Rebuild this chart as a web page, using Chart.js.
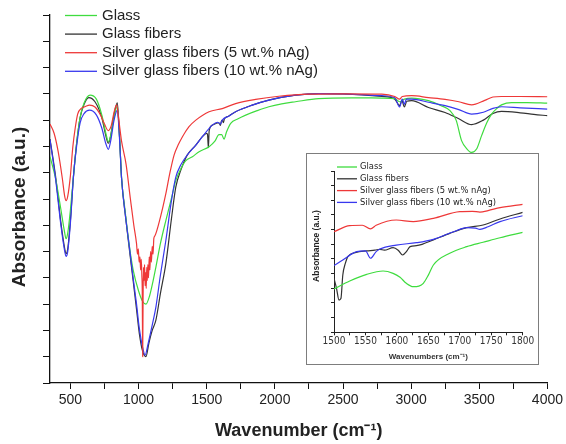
<!DOCTYPE html>
<html>
<head>
<meta charset="utf-8">
<script src="https://cdn.jsdelivr.net/npm/chart.js@4.4.1/dist/chart.umd.min.js"></script>
<style>
  body { margin: 0; background: #fff; }
  #wrap { position: relative; width: 566px; height: 444px; }
  #box { position: absolute; left: 306px; top: 153px; width: 233px; height: 212px;
         box-sizing: border-box; border: 1.5px solid #7d7d7d; background: #fff; }
  #zoom { position: absolute; left: 0; top: 0; }
</style>
</head>
<body>
<div id="wrap">
  <canvas id="main" width="566" height="444"></canvas>
  <div id="box"><canvas id="zoom" width="230" height="209"></canvas></div>
</div>
<script>
// series names
const names = ['Glass', 'Glass fibers', 'Silver glass fibers (5 wt.% nAg)', 'Silver glass fibers (10 wt.% nAg)'];
const colors = ['#3fdc3f', '#333333', '#ee3838', '#3838ee'];

// main spectrum, [wavenumber, absorbance a.u.]
const glass = [[350,8.61],[390,7.8],[430,6.6],[455,5.8],[468,5.49],[480,5.7],[500,6.6],[522,7.85],[545,9.1],[571,10.1],[600,10.65],[644,10.95],[690,10.8],[730,10.2],[760,9.5],[778,9.18],[795,9.4],[820,10.1],[842,10.51],[860,9.4],[875,7.8],[900,6.6],[930,5.3],[960,4.3],[1000,3.5],[1030,3.1],[1054,3.0],[1080,3.3],[1105,3.85],[1127,4.41],[1160,5.3],[1200,6.18],[1240,7.0],[1273,7.7],[1310,8.15],[1347,8.46],[1395,8.61],[1444,8.8],[1517,8.99],[1560,9.2],[1590,9.45],[1610,9.45],[1627,9.28],[1645,9.55],[1676,9.88],[1730,10.05],[1786,10.19],[1870,10.36],[1956,10.51],[2050,10.62],[2151,10.7],[2322,10.82],[2566,10.85],[2785,10.84],[2880,10.82],[2915,10.7],[2950,10.8],[3004,10.84],[3127,10.74],[3220,10.55],[3285,10.36],[3330,10.0],[3370,9.22],[3410,8.9],[3444,8.77],[3480,8.9],[3517,9.41],[3555,9.9],[3590,10.23],[3630,10.45],[3663,10.58],[3737,10.67],[3850,10.67],[4000,10.65]];
const fibers = [[350,9.28],[390,7.9],[430,6.1],[455,5.2],[468,4.92],[480,5.1],[500,6.2],[522,7.85],[545,9.1],[571,10.1],[600,10.6],[634,10.86],[680,10.7],[730,10.1],[760,9.4],[778,9.12],[795,9.4],[820,10.2],[844,10.66],[860,9.4],[875,7.8],[905,6.3],[932,5.1],[960,3.9],[985,2.8],[1005,1.9],[1030,1.2],[1054,1.0],[1075,1.5],[1100,2.0],[1127,2.39],[1160,3.4],[1200,4.54],[1240,6.2],[1273,7.45],[1310,8.1],[1358,8.68],[1420,9.05],[1468,9.37],[1500,9.5],[1506,9.45],[1512,8.95],[1518,9.6],[1541,9.81],[1590,9.9],[1600,9.8],[1607,9.95],[1614,10.0],[1622,9.9],[1630,10.05],[1660,10.15],[1712,10.32],[1834,10.57],[1956,10.76],[2151,10.95],[2322,11.01],[2500,11.0],[2785,10.9],[2880,10.8],[2915,10.55],[2932,10.75],[2950,10.5],[2968,10.72],[3004,10.74],[3127,10.48],[3249,10.29],[3350,10.05],[3444,9.83],[3530,10.0],[3600,10.25],[3663,10.33],[3800,10.28],[3900,10.22],[4000,10.17]];
const silver5 = [[350,9.85],[380,9.5],[410,8.8],[440,7.8],[458,7.1],[468,6.94],[480,7.1],[500,7.9],[517,8.96],[535,9.7],[553,10.23],[580,10.45],[610,10.52],[640,10.57],[680,10.5],[720,10.2],[750,9.85],[778,9.6],[800,9.8],[820,10.3],[839,10.58],[855,10.0],[875,9.2],[908,8.33],[940,7.0],[965,6.0],[985,5.3],[992,4.9],[998,5.1],[1004,4.6],[1010,4.8],[1015,4.3],[1020,4.7],[1024,4.1],[1027,3.5],[1030,1.0],[1033,3.2],[1036,4.4],[1040,3.9],[1044,4.5],[1048,3.7],[1052,4.2],[1056,3.6],[1060,4.4],[1064,3.9],[1068,4.5],[1073,4.0],[1078,4.8],[1083,4.3],[1088,5.0],[1094,4.6],[1100,5.2],[1106,4.9],[1112,5.5],[1120,5.6],[1160,6.3],[1200,7.2],[1230,8.0],[1261,8.68],[1290,9.05],[1322,9.37],[1370,9.75],[1420,10.0],[1517,10.32],[1614,10.44],[1712,10.63],[1859,10.79],[2029,10.91],[2249,10.99],[2500,11.0],[2785,10.99],[2880,10.9],[2915,10.8],[2935,10.9],[3004,10.93],[3127,10.86],[3249,10.79],[3350,10.7],[3444,10.58],[3540,10.75],[3600,10.88],[3663,10.9],[3800,10.9],[4000,10.89]];
const silver10 = [[350,9.26],[390,7.8],[430,6.0],[455,5.1],[468,4.82],[480,5.0],[500,6.1],[522,7.85],[545,9.0],[571,9.9],[600,10.25],[640,10.38],[690,10.2],[730,9.7],[760,9.1],[778,8.89],[795,9.2],[820,10.0],[844,10.38],[860,9.3],[875,7.8],[905,6.3],[932,5.2],[960,4.0],[985,3.0],[1005,2.1],[1030,1.35],[1048,1.06],[1070,1.5],[1100,2.2],[1127,2.89],[1160,4.1],[1200,5.42],[1240,6.9],[1273,7.83],[1310,8.3],[1358,8.68],[1420,9.05],[1468,9.37],[1541,9.81],[1580,9.92],[1600,9.85],[1614,10.0],[1660,10.15],[1712,10.32],[1834,10.57],[1956,10.76],[2151,10.95],[2322,11.01],[2500,11.0],[2785,10.93],[2880,10.85],[2915,10.5],[2935,10.8],[2950,10.6],[2965,10.8],[3004,10.8],[3127,10.68],[3249,10.55],[3350,10.4],[3444,10.23],[3530,10.3],[3600,10.45],[3663,10.51],[3800,10.47],[4000,10.42]];

// inset, 1500-1800 cm-1
const glassZoom = [[1500,2.95],[1525,3.5],[1552,3.95],[1578,4.18],[1594,4.02],[1605,3.75],[1615,3.34],[1626,3.11],[1635,3.15],[1642,3.34],[1650,3.9],[1658,4.59],[1684,5.39],[1711,5.84],[1737,6.14],[1764,6.45],[1800,6.82]];
const fibersZoom = [[1500,3.68],[1504,3.0],[1508,2.2],[1511,2.3],[1514,3.91],[1518,4.7],[1522,5.16],[1535,5.45],[1552,5.55],[1565,5.6],[1573,5.66],[1580,5.6],[1594,5.77],[1602,5.6],[1609,5.27],[1615,5.5],[1621,5.84],[1631,5.91],[1640,6.0],[1658,6.3],[1684,6.75],[1711,7.14],[1737,7.32],[1764,7.73],[1800,8.18]];
const silver5Zoom = [[1500,6.86],[1525,7.27],[1545,7.3],[1558,7.05],[1567,7.3],[1599,7.66],[1626,7.55],[1658,7.77],[1700,8.23],[1720,8.25],[1732,8.2],[1745,8.3],[1764,8.5],[1800,8.73]];
const silver10Zoom = [[1500,4.55],[1514,4.93],[1536,5.5],[1550,5.55],[1558,5.05],[1567,5.5],[1573,5.68],[1599,5.95],[1631,6.11],[1658,6.34],[1690,6.86],[1711,7.14],[1725,7.1],[1732,7.02],[1745,7.2],[1764,7.55],[1800,7.95]];

const mainTicks = [500, 750, 1000, 1250, 1500, 1750, 2000, 2250, 2500, 2750, 3000, 3250, 3500, 3750, 4000];
const zoomTicks = [1500, 1525, 1550, 1575, 1600, 1625, 1650, 1675, 1700, 1725, 1750, 1775, 1800];

const SANS = "'Liberation Sans', Arial, sans-serif";
const NARROW = "'Liberation Sans Narrow', 'Arial Narrow', 'DejaVu Sans Condensed', sans-serif";

// draws a short line + label for each dataset, Origin style
const lineLegend = {
  id: 'lineLegend',
  afterDatasetsDraw(chart, args, o) {
    const ctx = chart.ctx;
    ctx.save();
    ctx.font = o.font;
    ctx.textBaseline = 'middle';
    chart.data.datasets.forEach((ds, i) => {
      const y = o.y + i * o.step;
      ctx.strokeStyle = ds.borderColor;
      ctx.lineWidth = 1.3;
      ctx.beginPath();
      ctx.moveTo(o.x, y);
      ctx.lineTo(o.x + o.len, y);
      ctx.stroke();
      ctx.fillStyle = '#222';
      ctx.fillText(ds.label, o.x + o.len + o.gap, y);
    });
    ctx.restore();
  }
};

// rotated y title, placed by hand (Chart.js centres it on the axis)
const sideTitle = {
  id: 'sideTitle',
  afterDraw(chart, args, o) {
    const ctx = chart.ctx;
    ctx.save();
    ctx.translate(o.x, o.y);
    ctx.rotate(-Math.PI / 2);
    ctx.font = o.font;
    ctx.fillStyle = '#222';
    ctx.textAlign = 'center';
    ctx.textBaseline = 'middle';
    ctx.fillText(o.text, 0, 0);
    ctx.restore();
  }
};

const toXY = pts => pts.map(p => ({ x: p[0], y: p[1] }));
const drawOrder = [3, 4, 1, 2];

function makeSets(series) {
  return series.map((s, i) => ({
    label: names[i],
    data: toXY(s),
    borderColor: colors[i],
    borderWidth: 1.2,
    pointRadius: 0,
    cubicInterpolationMode: 'monotone',
    order: drawOrder[i]
  }));
}

new Chart(document.getElementById('main'), {
  type: 'line',
  data: { datasets: makeSets([glass, fibers, silver5, silver10]) },
  plugins: [lineLegend, sideTitle],
  options: {
    responsive: false,
    animation: false,
    layout: { padding: { top: 15, right: 16.5, left: 0, bottom: 0 } },
    plugins: {
      legend: { display: false },
      tooltip: { enabled: false },
      lineLegend: { x: 65, y: 15.5, step: 18.6, len: 32, gap: 5, font: '15px ' + SANS },
      sideTitle: { text: 'Absorbance (a.u.)', x: 20, y: 207, font: 'bold 19px ' + SANS }
    },
    scales: {
      x: {
        type: 'linear', min: 350, max: 4000,
        afterBuildTicks: s => { s.ticks = mainTicks.map(v => ({ value: v })); },
        afterFit: s => { s.height = 61; },
        ticks: {
          autoSkip: false, maxRotation: 0, padding: 3, color: '#222',
          font: { size: 14, family: SANS },
          callback: v => (v % 500 === 0 ? String(v) : '')
        },
        grid: { drawOnChartArea: false, tickLength: 6, tickColor: '#111' },
        border: { color: '#111', width: 1.3 },
        title: {
          display: true, text: 'Wavenumber (cm⁻¹)', color: '#222',
          font: { size: 18, weight: 'bold', family: SANS }, padding: { bottom: 2 }
        }
      },
      y: {
        min: 0, max: 14,
        ticks: { stepSize: 1, display: false },
        afterFit: s => { s.width = 50; },
        grid: { drawOnChartArea: false, tickLength: 7, tickColor: '#111' },
        border: { color: '#111', width: 1.3 }
      }
    }
  }
});

new Chart(document.getElementById('zoom'), {
  type: 'line',
  data: { datasets: makeSets([glassZoom, fibersZoom, silver5Zoom, silver10Zoom]) },
  plugins: [lineLegend, sideTitle],
  options: {
    responsive: false,
    animation: false,
    layout: { padding: { top: 17, right: 14.3, left: 0, bottom: 0 } },
    plugins: {
      legend: { display: false },
      tooltip: { enabled: false },
      lineLegend: { x: 30, y: 13, step: 11.8, len: 20, gap: 3, font: '9.3px ' + NARROW },
      sideTitle: { text: 'Absorbance (a.u.)', x: 10, y: 92, font: 'bold 8.5px ' + SANS }
    },
    scales: {
      x: {
        type: 'linear', min: 1500, max: 1800,
        afterBuildTicks: s => { s.ticks = zoomTicks.map(v => ({ value: v })); },
        afterFit: s => { s.height = 30.7; },
        ticks: {
          autoSkip: false, maxRotation: 0, padding: 0, color: '#333',
          font: { size: 10, family: NARROW },
          callback: v => (v % 50 === 0 ? String(v) : '')
        },
        grid: { drawOnChartArea: false, tickLength: 3, tickColor: '#222' },
        border: { color: '#222', width: 1 },
        title: {
          display: true, text: 'Wavenumbers (cm⁻¹)', color: '#333',
          font: { size: 8, weight: 'bold', family: SANS }, padding: { bottom: 1.5 }
        }
      },
      y: {
        min: 0, max: 11,
        ticks: { stepSize: 1, display: false },
        afterFit: s => { s.width = 27; },
        grid: { drawOnChartArea: false, tickLength: 3, tickColor: '#222' },
        border: { color: '#222', width: 1 }
      }
    }
  }
});
</script>
</body>
</html>
